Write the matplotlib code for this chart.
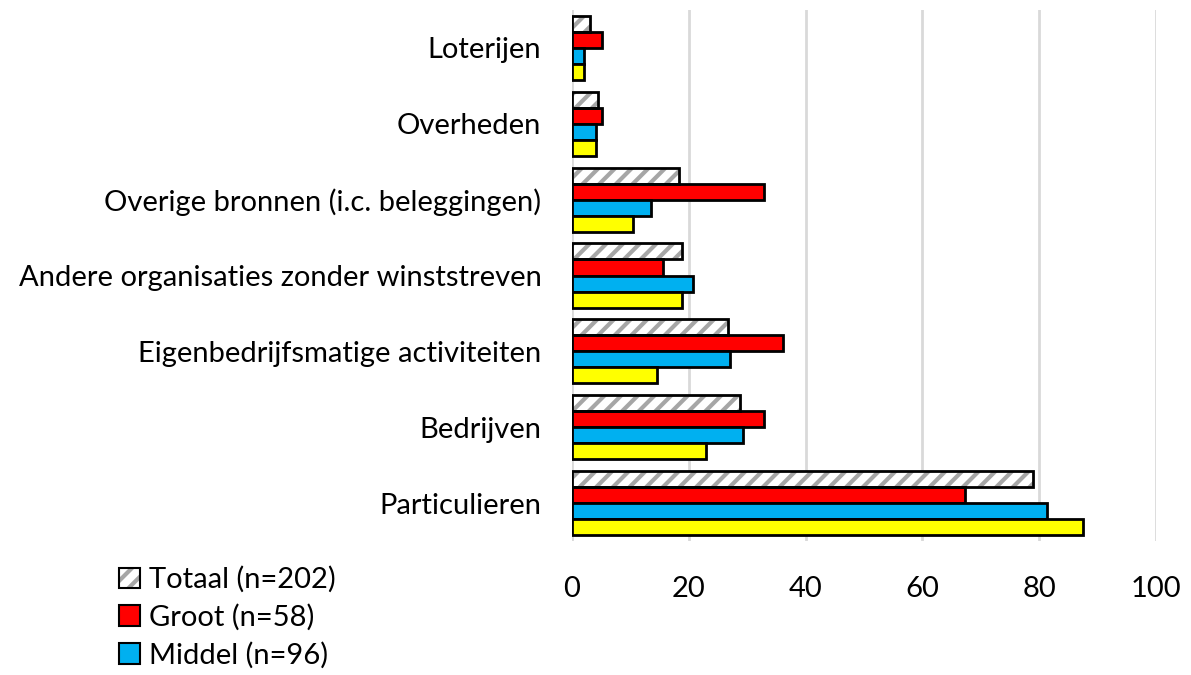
import numpy as np
import matplotlib
matplotlib.use("Agg")
import matplotlib.pyplot as plt
from matplotlib.patches import Patch
from matplotlib.legend_handler import HandlerTuple

categorieen = [
    "Particulieren",
    "Bedrijven",
    "Eigenbedrijfsmatige activiteiten",
    "Andere organisaties zonder winststreven",
    "Overige bronnen (i.c. beleggingen)",
    "Overheden",
    "Loterijen",
]
totaal = [78.9, 28.8, 26.7, 18.8, 18.3, 4.5, 3.0]
groot = [67.3, 32.8, 36.2, 15.5, 32.8, 5.2, 5.2]
middel = [81.3, 29.2, 27.1, 20.8, 13.6, 4.1, 2.0]
klein = [87.5, 22.9, 14.6, 18.8, 10.4, 4.1, 2.0]
labels = ["Totaal (n=202)", "Groot (n=58)", "Middel (n=96)"]
x_ticks = [0, 20, 40, 60, 80, 100]

plt.rcParams['font.family'] = ['Lato', 'DejaVu Sans']
plt.rcParams['hatch.linewidth'] = 3.0

fig = plt.figure(figsize=(11.91, 6.75), dpi=100)
ax = fig.add_axes([0.4803, 0.1985, 0.4903, 0.7867])

y = np.arange(len(categorieen))
h = 0.211
offsets = [1.5 * h, 0.5 * h, -0.5 * h, -1.5 * h]

# Totaal: gestreepte balk, grijze arcering + zwarte rand
ax.barh(y + offsets[0], totaal, height=h, color="white", edgecolor="#a6a6a6",
        hatch="//", linewidth=0, zorder=3)
ax.barh(y + offsets[0], totaal, height=h, color="none", edgecolor="black",
        linewidth=2, zorder=4)
ax.barh(y + offsets[1], groot, height=h, color="#ff0000", edgecolor="black",
        linewidth=2, zorder=3)
ax.barh(y + offsets[2], middel, height=h, color="#00b0f0", edgecolor="black",
        linewidth=2, zorder=3)
ax.barh(y + offsets[3], klein, height=h, color="#ffff00", edgecolor="black",
        linewidth=2, zorder=3)

ax.set_xlim(0, 100)
ax.set_ylim(-0.5, 6.5)
ax.set_xticks(x_ticks)
ax.set_yticks(y)
ax.set_yticklabels(categorieen)
ax.tick_params(axis="both", length=0, labelsize=21, colors="black")
ax.tick_params(axis="y", pad=22)
ax.tick_params(axis="x", pad=25)
ax.grid(axis="x", color="#d9d9d9", linewidth=2, zorder=0)
ax.set_axisbelow(True)
for s in ax.spines.values():
    s.set_visible(False)

handles = [
    (Patch(facecolor="white", edgecolor="#a6a6a6", hatch="//", linewidth=0),
     Patch(facecolor="none", edgecolor="black", linewidth=1.5)),
    Patch(facecolor="#ff0000", edgecolor="black", linewidth=1.5),
    Patch(facecolor="#00b0f0", edgecolor="black", linewidth=1.5),
]
fig.legend(handles, labels, loc="upper left", bbox_to_anchor=(0.088, 0.183),
           frameon=False, fontsize=21, handlelength=0.7, handleheight=0.7,
           handletextpad=0.3, labelspacing=0.38, borderpad=0,
           handler_map={tuple: HandlerTuple(ndivide=1, pad=0)})

fig.savefig("out.png", dpi=100)
